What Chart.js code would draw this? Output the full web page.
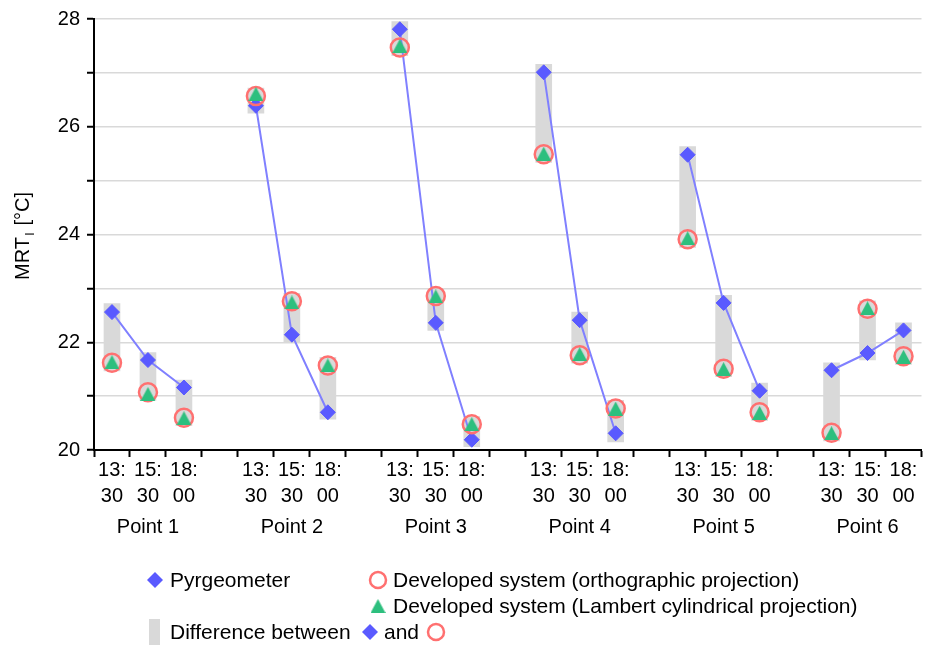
<!DOCTYPE html>
<html><head><meta charset="utf-8">
<script src="https://cdn.jsdelivr.net/npm/chart.js@4.4.1/dist/chart.umd.min.js"></script>
<style>html,body{margin:0;padding:0;background:#fff;}canvas{display:block;}</style>
</head><body>
<canvas id="c" width="933" height="648"></canvas>
<script>
// ---- data ----
const groups = ['Point 1', 'Point 2', 'Point 3', 'Point 4', 'Point 5', 'Point 6'];
const times = [['13:', '30'], ['15:', '30'], ['18:', '00']];
const pyrgeometer  = [22.56, 21.67, 21.16, 26.39, 22.14, 20.70, 27.81, 22.36, 20.19, 27.01, 22.41, 20.31, 25.48, 22.73, 21.10, 21.48, 21.80, 22.22];
const orthographic = [21.62, 21.07, 20.60, 26.57, 22.76, 21.57, 27.47, 22.86, 20.48, 25.49, 21.76, 20.77, 23.91, 21.51, 20.70, 20.32, 22.62, 21.74];
const lambert      = [21.63, 21.04, 20.59, 26.61, 22.74, 21.57, 27.50, 22.85, 20.48, 25.50, 21.78, 20.77, 23.93, 21.50, 20.69, 20.31, 22.63, 21.73];
const diffLow      = [21.47, 20.92, 20.45, 26.25, 22.00, 20.57, 27.32, 22.22, 20.06, 25.34, 21.61, 20.15, 23.76, 21.36, 20.55, 20.17, 21.67, 21.59];
const diffHigh     = [22.72, 21.81, 21.30, 26.72, 22.91, 21.72, 27.95, 23.00, 20.62, 27.16, 22.56, 20.92, 25.63, 22.87, 21.24, 21.62, 22.77, 22.36];
const yTicks = [20, 22, 24, 26, 28];

// ---- build slot tables (gap slot between groups) ----
const slotLabels = [], groupLabels = [], pyr = [], ortho = [], lamb = [], diff = [];
groups.forEach((g, gi) => {
  times.forEach((t, ti) => {
    const i = gi * 3 + ti;
    slotLabels.push(t);
    groupLabels.push(ti === 1 ? g : '');
    pyr.push(pyrgeometer[i]);
    ortho.push(orthographic[i]);
    lamb.push(lambert[i]);
    diff.push([diffLow[i], diffHigh[i]]);
  });
  if (gi < groups.length - 1) {
    slotLabels.push(''); groupLabels.push('');
    pyr.push(null); ortho.push(null); lamb.push(null); diff.push(null);
  }
});

const FONT = '"Liberation Sans", Arial, sans-serif';
Chart.defaults.font.family = FONT;
Chart.defaults.color = '#000';

const C_PYR = '#5a5aff', C_LINE = '#8080ff', C_ORTHO = 'rgb(255,112,112)', C_LAMB = '#2dbf7e', C_DIFF = '#d9d9d9';

function triCanvas(w, h, color) {
  const c = document.createElement('canvas');
  c.width = w; c.height = h;
  const g = c.getContext('2d');
  g.fillStyle = color;
  g.beginPath(); g.moveTo(w / 2, 0); g.lineTo(w, h); g.lineTo(0, h); g.closePath(); g.fill();
  return c;
}
const triImg = triCanvas(15, 14, C_LAMB);

function drawDiamond(ctx, x, y, r) {
  ctx.fillStyle = C_PYR;
  ctx.beginPath(); ctx.moveTo(x - r, y); ctx.lineTo(x, y - r); ctx.lineTo(x + r, y); ctx.lineTo(x, y + r); ctx.closePath(); ctx.fill();
}
function drawCircle(ctx, x, y, r) {
  ctx.strokeStyle = C_ORTHO; ctx.lineWidth = 2.5;
  ctx.beginPath(); ctx.arc(x, y, r, 0, Math.PI * 2); ctx.stroke();
}

const legendPlugin = {
  id: 'customLegend',
  afterDraw(chart) {
    const ctx = chart.ctx;
    ctx.save();
    ctx.font = '21px ' + FONT;
    ctx.textBaseline = 'middle';
    ctx.textAlign = 'left';
    const r1 = 580, r2 = 606, r3 = 632;
    drawDiamond(ctx, 155, r1, 8);
    ctx.fillStyle = '#000'; ctx.fillText('Pyrgeometer', 170, r1 + 1);
    drawCircle(ctx, 378, r1, 8);
    ctx.fillStyle = '#000'; ctx.fillText('Developed system (orthographic projection)', 393, r1 + 1);
    ctx.drawImage(triImg, 378 - 7.5, r2 - 7);
    ctx.fillStyle = '#000'; ctx.fillText('Developed system (Lambert cylindrical projection)', 393, r2 + 1);
    ctx.fillStyle = C_DIFF; ctx.fillRect(149, 619, 11, 26);
    ctx.fillStyle = '#000'; ctx.fillText('Difference between', 170, r3 + 1);
    drawDiamond(ctx, 370, r3, 8);
    ctx.fillStyle = '#000'; ctx.fillText('and', 384, r3 + 1);
    drawCircle(ctx, 436, r3, 8);
    ctx.restore();
  }
};

const yTitlePlugin = {
  id: 'yTitle',
  afterDraw(chart) {
    const ctx = chart.ctx;
    ctx.save();
    ctx.translate(22, 236);
    ctx.rotate(-Math.PI / 2);
    ctx.fillStyle = '#000';
    ctx.textBaseline = 'alphabetic';
    const f = '20px ' + FONT, fs = '13px ' + FONT;
    ctx.font = f;
    const w1 = ctx.measureText('MRT').width, w3 = ctx.measureText(' [°C]').width;
    ctx.font = fs;
    const w2 = ctx.measureText('l').width + 3;
    let x = -(w1 + w2 + w3) / 2;
    const base = 7;
    ctx.font = f; ctx.fillText('MRT', x, base); x += w1;
    ctx.font = fs; ctx.fillText('l', x + 1.5, base + 5); x += w2;
    ctx.font = f; ctx.fillText(' [°C]', x, base);
    ctx.restore();
  }
};

new Chart(document.getElementById('c'), {
  type: 'bar',
  data: {
    labels: slotLabels,
    datasets: [
      { type: 'line', label: 'Developed system (Lambert cylindrical projection)', data: lamb, showLine: false,
        pointStyle: triImg, pointRadius: 8, order: 1 },
      { type: 'line', label: 'Developed system (orthographic projection)', data: ortho, showLine: false,
        pointStyle: 'circle', pointRadius: 9, pointBorderWidth: 2.5, pointBorderColor: C_ORTHO,
        pointBackgroundColor: 'rgba(0,0,0,0)', order: 2 },
      { type: 'line', label: 'Pyrgeometer', data: pyr, borderColor: C_LINE, borderWidth: 2, spanGaps: false, tension: 0,
        pointStyle: 'rectRot', pointRadius: 7.5, pointBackgroundColor: C_PYR, pointBorderColor: C_PYR,
        pointBorderWidth: 1, order: 3 },
      { type: 'bar', label: 'Difference', data: diff, backgroundColor: C_DIFF, barThickness: 16, order: 4 }
    ]
  },
  options: {
    responsive: false,
    animation: false,
    events: [],
    layout: { padding: { top: 18, right: 2, bottom: 108, left: 0 } },
    plugins: { legend: { display: false }, tooltip: { enabled: false } },
    scales: {
      x: {
        type: 'category', position: 'bottom', offset: true,
        grid: { offset: true, drawOnChartArea: false, drawTicks: true, tickLength: 7, tickWidth: 2, tickColor: '#000' },
        border: { display: true, color: '#000', width: 2, z: 1 },
        ticks: { autoSkip: false, maxRotation: 0, minRotation: 0, padding: 0, color: '#000', font: { size: 20, lineHeight: 1.3 } },
        afterFit(s) { s.height = 60; }
      },
      x2: {
        type: 'category', position: 'bottom', labels: groupLabels, offset: true,
        grid: { display: false, drawTicks: false }, border: { display: false },
        ticks: { autoSkip: false, maxRotation: 0, minRotation: 0, padding: 5, color: '#000', font: { size: 20 } },
        afterFit(s) { s.height = 30; }
      },
      y: {
        min: 20, max: 28,
        ticks: { stepSize: 1, padding: 7, color: '#000', font: { size: 20 },
                 callback: v => yTicks.includes(v) ? String(v) : '' },
        grid: { color: C_DIFF, lineWidth: 1.5, tickLength: 7, tickWidth: 2, tickColor: '#000' },
        border: { color: '#000', width: 2 },
        afterFit(s) { s.width = 94; }
      }
    }
  },
  plugins: [legendPlugin, yTitlePlugin]
});
</script>
</body></html>
